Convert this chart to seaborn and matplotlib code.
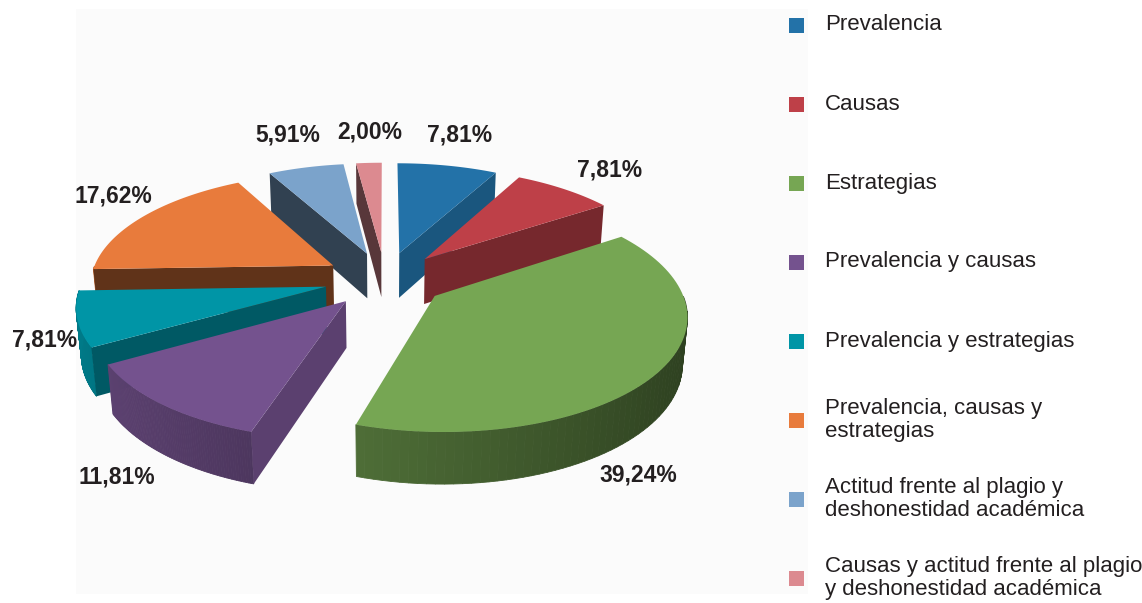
import numpy as np
import matplotlib
matplotlib.use("Agg")
import matplotlib.pyplot as plt
from matplotlib.patches import Polygon, Rectangle
import matplotlib.colors as mcolors
import seaborn as sns

# data
categories = [
    "Prevalencia",
    "Causas",
    "Estrategias",
    "Prevalencia y causas",
    "Prevalencia y estrategias",
    "Prevalencia, causas y\nestrategias",
    "Actitud frente al plagio y\ndeshonestidad académica",
    "Causas y actitud frente al plagio\ny deshonestidad académica",
]
percentages = [7.81, 7.81, 39.24, 11.81, 7.81, 17.62, 5.91, 2.00]
pct_labels = ["7,81%", "7,81%", "39,24%", "11,81%", "7,81%", "17,62%", "5,91%", "2,00%"]
colors = ["#2372A8", "#BE4048", "#76A653", "#74528E", "#0095A6", "#E87B3C", "#7BA3CB", "#DC8A90"]

# label placement tweaks (angle shift in degrees, radius factor)
label_shift = [-1, 1, 17, 2, 13, 5, 1, 1]
label_rad = [1.42, 1.34, 1.17, 1.20, 1.16, 1.27, 1.44, 1.41]

sns.set_theme(style="white")
plt.rcParams["font.family"] = ["Liberation Sans", "DejaVu Sans"]

W, H = 1142, 603
fig = plt.figure(figsize=(W / 100, H / 100), dpi=100)
fig.patch.set_facecolor("white")
ax = fig.add_axes([0, 0, 1, 1])
ax.set_xlim(0, W)
ax.set_ylim(H, 0)
ax.axis("off")

# faint plot area
ax.add_patch(Rectangle((76, 9), 732, 585, facecolor="#FBFBFB", edgecolor="none", zorder=0))

# simple perspective projection of a tilted 3D pie
cx, cy, S = 385, 279, 243
phi = np.radians(27)
D = 6.0
h = 0.215
explode = 0.25


def proj(X, Y, Z):
    t = Y * np.cos(phi) + Z * np.sin(phi)
    k = D / (D - t)
    return cx + S * X * k, cy - S * (Z * np.cos(phi) - Y * np.sin(phi)) * k


def shade(c, f):
    r, g, b = mcolors.to_rgb(c)
    return (r * f, g * f, b * f)


vals = np.array(percentages)
ends = np.cumsum(vals) / vals.sum() * 2 * np.pi
starts = np.concatenate([[0], ends[:-1]])
mids = (starts + ends) / 2

# back-to-front order
order = np.argsort(-np.cos(mids))
z = 2
for i in order:
    t1, t2, tm = starts[i], ends[i], mids[i]
    ox, oy = explode * np.sin(tm), -explode * np.cos(tm)
    th = np.linspace(t1, t2, 80)
    ax_ = ox + np.sin(th)
    ay_ = oy - np.cos(th)
    col = colors[i]

    # outer curved side (front half only), shaded per strip
    front = np.cos(th) < 0
    idx = np.where(front)[0]
    if len(idx) > 1:
        for j in range(idx[0], idx[-1]):
            xs = [ax_[j], ax_[j + 1], ax_[j + 1], ax_[j]]
            ys = [ay_[j], ay_[j + 1], ay_[j + 1], ay_[j]]
            zs = [0, 0, -h, -h]
            px, py = proj(np.array(xs), np.array(ys), np.array(zs))
            f = np.clip(0.6 - 0.22 * np.sin(th[j]), 0.35, 0.85)
            ax.add_patch(Polygon(np.column_stack([px, py]), closed=True,
                                 facecolor=shade(col, f), edgecolor=shade(col, f),
                                 linewidth=0.6, zorder=z))
        z += 1

    # radial faces
    for ang, visible, nx in [(t1, np.sin(t1) < 0, -np.cos(t1)),
                             (t2, np.sin(t2) > 0, np.cos(t2))]:
        if not visible:
            continue
        xs = [ox, ox + np.sin(ang), ox + np.sin(ang), ox]
        ys = [oy, oy - np.cos(ang), oy - np.cos(ang), oy]
        zs = [0, 0, -h, -h]
        px, py = proj(np.array(xs), np.array(ys), np.array(zs))
        f = 0.4 + 0.4 * max(0.0, nx)
        ax.add_patch(Polygon(np.column_stack([px, py]), closed=True,
                             facecolor=shade(col, f), edgecolor="none", zorder=z))
        z += 1

    # top face
    xs = np.concatenate([[ox], ax_])
    ys = np.concatenate([[oy], ay_])
    px, py = proj(xs, ys, np.zeros_like(xs))
    ax.add_patch(Polygon(np.column_stack([px, py]), closed=True,
                         facecolor=col, edgecolor="none", zorder=z))
    z += 1

# percentage labels
for i in range(len(vals)):
    tm = mids[i] + np.radians(label_shift[i])
    ox, oy = explode * np.sin(mids[i]), -explode * np.cos(mids[i])
    zz = -h if np.cos(mids[i]) < 0 else 0.0
    lx, ly = proj(ox + label_rad[i] * np.sin(tm), oy - label_rad[i] * np.cos(tm), zz)
    ax.text(lx, ly, pct_labels[i], ha="center", va="center", fontsize=16.5,
            fontweight="bold", color="#231F20", zorder=50)

# legend
for i, name in enumerate(categories):
    y = 25 + 79 * i
    ax.add_patch(Rectangle((789, y - 7.5), 15, 15, facecolor=colors[i], edgecolor="none", zorder=50))
    ax.text(825, y, name, ha="left", va="center", fontsize=16, color="#231F20",
            linespacing=1.1, zorder=50)

fig.savefig("out.png", dpi=100)
